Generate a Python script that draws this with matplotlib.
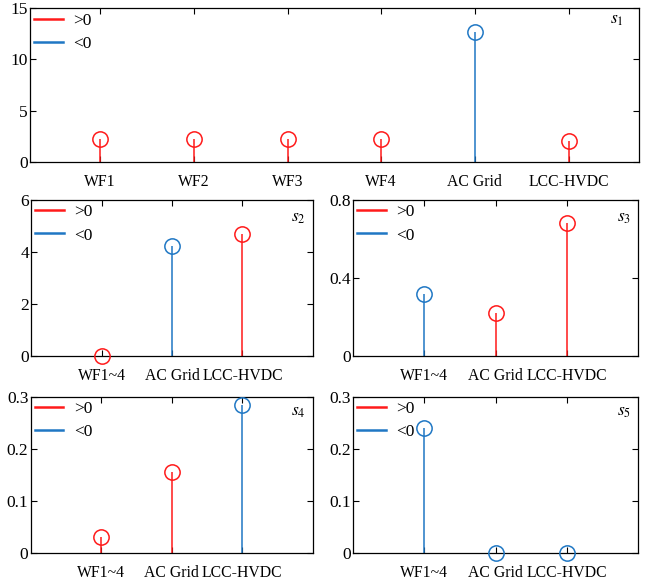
import numpy as np
import matplotlib.pyplot as plt
from matplotlib.lines import Line2D

plt.rcParams['font.family'] = ['Liberation Serif', 'DejaVu Serif']
plt.rcParams['mathtext.fontset'] = 'stix'
plt.rcParams['font.size'] = 12

RED = '#ff1a1a'
BLUE = '#1f77c4'

# sensitivity magnitudes, sign: +1 -> ">0", -1 -> "<0"
labels_s1 = ['WF1', 'WF2', 'WF3', 'WF4', 'AC Grid', 'LCC-HVDC']
s1_vals = [2.25, 2.25, 2.25, 2.25, 12.7, 2.05]
s1_sign = [1, 1, 1, 1, -1, 1]

labels_sub = ['WF1~4', 'AC Grid', 'LCC-HVDC']
s2_vals = [0.0, 4.25, 4.7]
s2_sign = [1, -1, 1]
s3_vals = [0.32, 0.22, 0.68]
s3_sign = [-1, 1, 1]
s4_vals = [0.03, 0.155, 0.285]
s4_sign = [1, 1, -1]
s5_vals = [0.24, 0.0, 0.0]
s5_sign = [-1, -1, -1]


def draw(ax, names, vals, signs, ylim, yticks, yticklabels, xlim, tag, tag_y):
    x = np.arange(1, len(names) + 1)
    for xi, v, s in zip(x, vals, signs):
        c = RED if s > 0 else BLUE
        ax.vlines(xi, 0, v, color=c, lw=1.1, zorder=2)
        ax.plot(xi, v, 'o', mfc='none', mec=c, ms=11, mew=1.1, zorder=3,
                clip_on=False)
    ax.set_xlim(*xlim)
    ax.set_ylim(*ylim)
    ax.set_xticks(x)
    ax.set_xticklabels(names, fontsize=11.3)
    ax.set_yticks(yticks)
    ax.set_yticklabels(yticklabels, fontsize=12.5)
    ax.tick_params(direction='in', top=True, right=True, length=4, width=0.8)
    ax.tick_params(axis='x', pad=8.5)
    ax.tick_params(axis='y', pad=1.5)
    for sp in ax.spines.values():
        sp.set_linewidth(0.9)
    ax.text(0.975, tag_y, tag, transform=ax.transAxes, ha='right', va='center',
            fontsize=12.5)
    handles = [Line2D([], [], color=RED, lw=1.8), Line2D([], [], color=BLUE, lw=1.8)]
    ax.legend(handles, ['>0', '<0'], loc='upper left', frameon=False,
              handlelength=1.65, handletextpad=0.6, borderaxespad=0.1,
              borderpad=0.15, labelspacing=0.4, fontsize=12.5)


fig = plt.figure(figsize=(6.49, 5.83), dpi=100)

ax1 = fig.add_axes([0.0462, 0.722, 0.938, 0.264])
draw(ax1, labels_s1, s1_vals, s1_sign, (0, 15), [0, 5, 10, 15],
     ['0', '5', '10', '15'], (0.25, 6.75), r'$s_1$', 0.92)

ax2 = fig.add_axes([0.048, 0.389, 0.434, 0.268])
draw(ax2, labels_sub, s2_vals, s2_sign, (0, 6), [0, 2, 4, 6],
     ['0', '2', '4', '6'], (0, 4), r'$s_2$', 0.885)

ax3 = fig.add_axes([0.544, 0.389, 0.439, 0.268])
draw(ax3, labels_sub, s3_vals, s3_sign, (0, 0.8), [0, 0.4, 0.8],
     ['0', '0.4', '0.8'], (0, 4), r'$s_3$', 0.885)

ax4 = fig.add_axes([0.047, 0.0515, 0.435, 0.268])
draw(ax4, labels_sub, s4_vals, s4_sign, (0, 0.3), [0, 0.1, 0.2, 0.3],
     ['0', '0.1', '0.2', '0.3'], (0, 4), r'$s_4$', 0.9)

ax5 = fig.add_axes([0.544, 0.0515, 0.439, 0.268])
draw(ax5, labels_sub, s5_vals, s5_sign, (0, 0.3), [0, 0.1, 0.2, 0.3],
     ['0', '0.1', '0.2', '0.3'], (0, 4), r'$s_5$', 0.9)

fig.savefig('out.png', dpi=100)
